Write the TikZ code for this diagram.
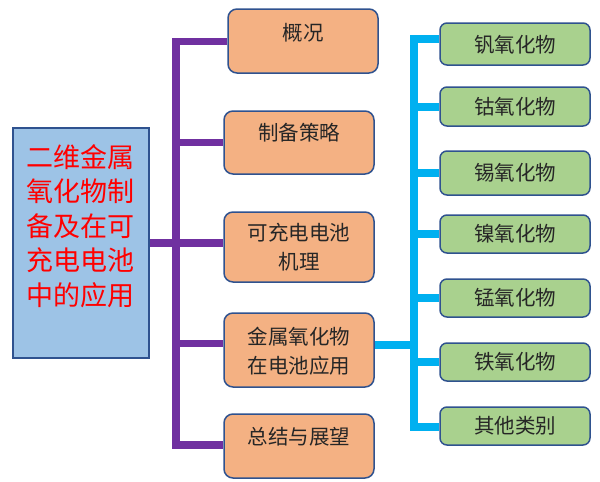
\documentclass[tikz,border=0pt]{standalone}
\usepackage{fontspec}
\setmainfont{Noto Sans CJK SC}
\usetikzlibrary{calc}
\definecolor{pline}{HTML}{7030A0}
\definecolor{bline}{HTML}{00B0F0}
\definecolor{orangefill}{HTML}{F4B183}
\definecolor{greenfill}{HTML}{A9D18E}
\definecolor{bluefill}{HTML}{9DC3E6}
\definecolor{edgeblue}{HTML}{2F528F}
\definecolor{redtext}{HTML}{FF0000}
\tikzset{
  mainbox/.style={draw=edgeblue, line width=1.5pt, fill=bluefill, minimum width=136pt, minimum height=230pt, inner sep=0pt},
  topicbox/.style={draw=edgeblue, line width=1.5pt, fill=orangefill, rounded corners=9pt, minimum width=150pt, inner sep=0pt},
  oxidebox/.style={draw=edgeblue, line width=1.5pt, fill=greenfill, rounded corners=7pt, minimum width=150pt, inner sep=0pt},
  topictext/.style={font=\fontsize{20.5}{29}\selectfont, text=black!85, align=center, inner sep=0pt},
  oxidetext/.style={font=\fontsize{20.5}{24}\selectfont, text=black!85, inner sep=0pt},
  purpleconn/.style={draw=pline, line width=7.5pt, line join=miter},
  blueconn/.style={draw=bline, line width=8pt, line join=miter},
}
\begin{document}
\begin{tikzpicture}[x=1pt,y=-1pt]
\useasboundingbox (0,0) rectangle (600,482);

\coordinate (pt) at (176,41.5);
\coordinate (pb) at (176,445);
\coordinate (bt) at (414,39);
\coordinate (bb) at (414,427);

% main box
\node[mainbox] (main) at (81,243) {};
\node[font=\fontsize{27}{34.5}\selectfont, text=redtext, align=center, inner sep=0pt] (maintext) at (81,226)
  {二维金属\\氧化物制\\备及在可\\充电电池\\中的应用};

% topic boxes
\node[topicbox, minimum height=64pt] (o1) at (303,41) {};
\node[topicbox, minimum height=63pt] (o2) at (299,142.5) {};
\node[topicbox, minimum height=70pt] (o3) at (299,247) {};
\node[topicbox, minimum height=74pt] (o4) at (299,350) {};
\node[topicbox, minimum height=64pt] (o5) at (299,446) {};
\node[topictext] (t1) at (303,33) {概况};
\node[topictext] (t2) at (299,133) {制备策略};
\node[topictext] (t3) at (299,247.5) {可充电电池\\机理};
\node[topictext] (t4) at (299,351) {金属氧化物\\在电池应用};
\node[topictext] (t5) at (299,437) {总结与展望};

% oxide boxes
\node[oxidebox, minimum height=42pt] (g1) at (515,44) {};
\node[oxidebox, minimum height=39pt] (g2) at (515,106.5) {};
\node[oxidebox, minimum height=44pt] (g3) at (515,173) {};
\node[oxidebox, minimum height=38pt] (g4) at (515,234) {};
\node[oxidebox, minimum height=38pt] (g5) at (515,298) {};
\node[oxidebox, minimum height=38pt] (g6) at (515,362) {};
\node[oxidebox, minimum height=38pt] (g7) at (515,426) {};
\node[oxidetext] (s1) at (515,45) {钒氧化物};
\node[oxidetext] (s2) at (515,107) {钴氧化物};
\node[oxidetext] (s3) at (515,173) {锡氧化物};
\node[oxidetext] (s4) at (515,234) {镍氧化物};
\node[oxidetext] (s5) at (515,298) {锰氧化物};
\node[oxidetext] (s6) at (515,362) {铁氧化物};
\node[oxidetext] (s7) at (515,426) {其他类别};

% purple tree
\draw[purpleconn] (pt -| o1.west) -- (pt) -- (pb) -- (pb -| o5.west);
\draw[purpleconn] (o2.west) -- (o2.west -| pt);
\draw[purpleconn] (main.east |- 0,243) -- (o3.west |- 0,243);
\draw[purpleconn] ([yshift=6.5pt]o4.west) -- ([yshift=6.5pt]o4.west -| pt);

% blue tree
\draw[blueconn] (bt -| g1.west) -- (bt) -- (bb) -- (bb -| g7.west);
\draw[blueconn] (g2.west) -- (g2.west -| bt);
\draw[blueconn] (g3.west) -- (g3.west -| bt);
\draw[blueconn] (g4.west) -- (g4.west -| bt);
\draw[blueconn] (g5.west) -- (g5.west -| bt);
\draw[blueconn] (g6.west) -- (g6.west -| bt);
\draw[blueconn] ([yshift=5pt]o4.east) -- ([yshift=5pt]o4.east -| bt);
\end{tikzpicture}
\end{document}
